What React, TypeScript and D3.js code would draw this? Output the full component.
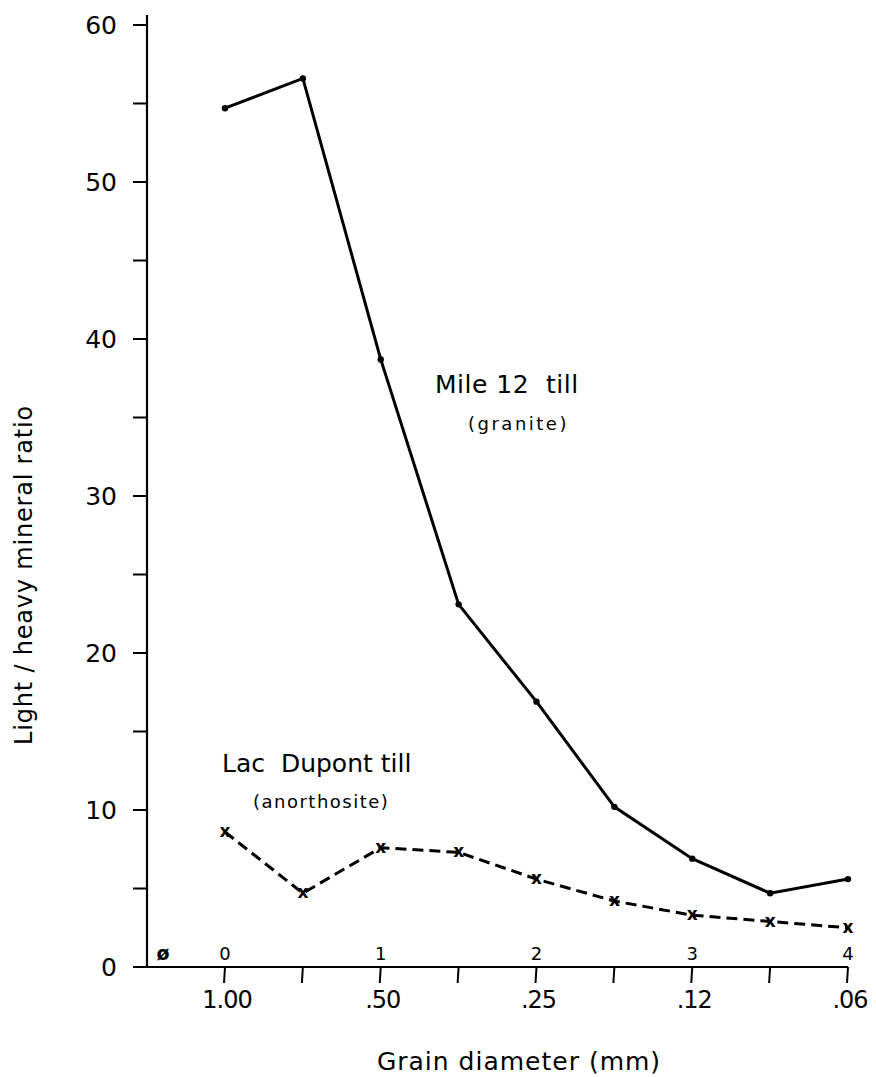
import React from 'react';
import * as d3 from 'd3';

// phi grade scale positions and the mm sizes printed under them
const phiSteps = [0, 0.5, 1, 1.5, 2, 2.5, 3, 3.5, 4];
const phiLabels = [0, 1, 2, 3, 4];
const sizeLabels = ['1.00', '.50', '.25', '.12', '.06'];
const yTicks = [0, 5, 10, 15, 20, 25, 30, 35, 40, 45, 50, 55, 60];
const yLabels = [0, 10, 20, 30, 40, 50, 60];

// light / heavy mineral ratios
const mile12 = [54.7, 56.6, 38.7, 23.1, 16.9, 10.2, 6.9, 4.7, 5.6];
const lacDupont = [8.6, 4.7, 7.6, 7.3, 5.6, 4.2, 3.3, 2.9, 2.5];

const W = 876;
const H = 1077;
const font = '"DejaVu Sans", sans-serif';

const App = () => {
    const x = d3.scaleLinear().domain([0, 4]).range([225, 848]);
    const y = d3.scaleLinear().domain([0, 60]).range([967, 25]);
    const axisX0 = 147;

    const line = d3.line<number>()
        .x((d, i) => x(phiSteps[i]))
        .y(d => y(d));

    return (
        <svg width={W} height={H} style={{ position: 'absolute', left: 0, top: 0, background: '#fff' }}>
            {/* axes */}
            <line x1={axisX0} x2={axisX0} y1={15} y2={y(0)} stroke="#000" strokeWidth={2.2} />
            <line x1={axisX0} x2={x(4)} y1={y(0)} y2={y(0)} stroke="#000" strokeWidth={2.2} />

            {yTicks.map(t => (
                <line key={'yt' + t} x1={axisX0 - 14} x2={axisX0} y1={y(t)} y2={y(t)} stroke="#000" strokeWidth={2} />
            ))}
            {yLabels.map(t => (
                <text key={'yl' + t} x={117} y={y(t)} dy="0.36em" textAnchor="end"
                    fontFamily={font} fontSize={25}>{t}</text>
            ))}

            {phiSteps.map(p => (
                <line key={'xt' + p} x1={x(p)} x2={x(p) - 1} y1={y(0)} y2={y(0) + 16} stroke="#000" strokeWidth={2} />
            ))}
            {phiLabels.map(p => (
                <text key={'pl' + p} x={x(p)} y={y(0) - 7} textAnchor="middle"
                    fontFamily={font} fontSize={18}>{p}</text>
            ))}
            <text x={163} y={y(0) - 7} textAnchor="middle" fontFamily={font} fontSize={19} fontWeight="bold">ø</text>
            {sizeLabels.map((s, i) => (
                <text key={'sl' + s} x={x(phiLabels[i]) + 2} y={1008} textAnchor="middle"
                    fontFamily={font} fontSize={24} letterSpacing={-1}>{s}</text>
            ))}

            <text x={519} y={1070} textAnchor="middle" fontFamily={font} fontSize={25} letterSpacing={1}>
                Grain diameter (mm)
            </text>
            <text transform="translate(32,575) rotate(-90)" textAnchor="middle" fontFamily={font}
                fontSize={24} letterSpacing={0.8}>
                Light / heavy mineral ratio
            </text>

            {/* Mile 12 till: solid line with dots */}
            <path d={line(mile12) ?? ''} fill="none" stroke="#000" strokeWidth={3} />
            {mile12.map((v, i) => (
                <circle key={'m' + i} cx={x(phiSteps[i])} cy={y(v)} r={3.2} fill="#000" />
            ))}

            {/* Lac Dupont till: dashed line with crosses */}
            <path d={line(lacDupont) ?? ''} fill="none" stroke="#000" strokeWidth={3} strokeDasharray="11 6" />
            {lacDupont.map((v, i) => (
                <text key={'l' + i} x={x(phiSteps[i])} y={y(v)} dy="0.3em" textAnchor="middle"
                    fontFamily={font} fontSize={17} fontWeight="bold">x</text>
            ))}

            {/* labels */}
            <text x={435} y={393} fontFamily={font} fontSize={25} letterSpacing={0.5} style={{ whiteSpace: 'pre' }}>
                {'Mile 12  till'}
            </text>
            <text x={468} y={430} fontFamily={font} fontSize={18} letterSpacing={2.5}>(granite)</text>
            <text x={222} y={772} fontFamily={font} fontSize={25} style={{ whiteSpace: 'pre' }}>
                {'Lac  Dupont till'}
            </text>
            <text x={253} y={808} fontFamily={font} fontSize={18} letterSpacing={1.5}>(anorthosite)</text>
        </svg>
    );
};

export default App;
